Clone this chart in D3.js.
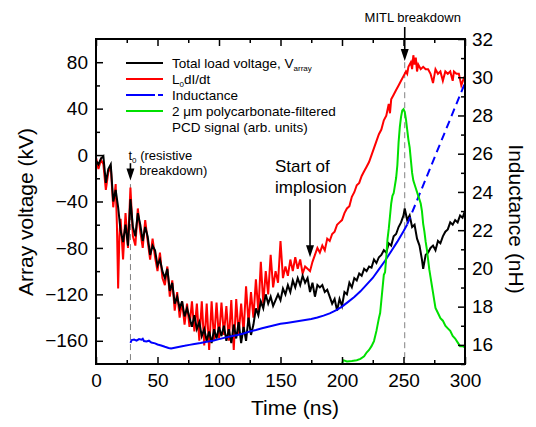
<!DOCTYPE html>
<html>
<head>
<meta charset="utf-8">
<script src="https://cdn.jsdelivr.net/npm/d3@7"></script>
<style>
  body { margin: 0; background: #fff; }
  svg { display: block; font-family: "Liberation Sans", Arial, sans-serif; }
</style>
</head>
<body>
<svg id="chart" width="536" height="427"></svg>
<script>
// Total load voltage V_array (kV) vs time (ns)
const voltageArray = [[0,-5],[2,-8],[4,-3],[6,-1],[8,-24],[10,-12],[12,-8],[14,-40],[16,-30],[18,-45],[20,-65],[22,-75],[24,-60],[26,-78],[28,-38],[30,-62],[32,-70],[34,-50],[36,-60],[38,-74],[40,-62],[42,-70],[44,-86],[46,-78],[48,-82],[50,-95],[52,-90],[54,-100],[56,-106],[58,-98],[60,-117],[62,-110],[64,-128],[66,-122],[68,-132],[70,-126],[72,-139],[74,-132],[76,-140],[78,-148],[80,-138],[82,-150],[84,-144],[86,-156],[88,-150],[90,-160],[92,-152],[94,-162],[96,-150],[98,-158],[100,-148],[102,-156],[104,-147],[106,-160],[108,-150],[110,-162],[112,-146],[114,-158],[116,-144],[118,-162],[120,-148],[122,-160],[124,-140],[126,-155],[128,-146],[130,-132],[132,-138],[134,-126],[136,-132],[138,-120],[140,-128],[142,-122],[144,-130],[146,-125],[148,-120],[150,-125],[152,-115],[154,-120],[156,-112],[158,-118],[160,-108],[162,-114],[164,-106],[166,-112],[168,-104],[170,-110],[172,-106],[174,-118],[176,-110],[178,-122],[180,-112],[182,-114],[184,-112],[186,-118],[188,-116],[190,-122],[192,-128],[194,-124],[196,-134],[198,-124],[200,-130],[202,-118],[204,-120],[206,-110],[208,-114],[210,-106],[212,-108],[214,-102],[216,-104],[218,-98],[220,-100],[222,-96],[224,-97],[226,-90],[228,-93],[230,-88],[232,-86],[234,-82],[236,-84],[238,-76],[240,-78],[242,-70],[244,-68],[246,-62],[248,-58],[250,-52],[251,-46],[253,-56],[255,-52],[257,-62],[259,-60],[261,-72],[263,-78],[265,-90],[266,-98],[268,-86],[270,-84],[272,-80],[274,-78],[276,-82],[278,-74],[280,-76],[282,-70],[284,-66],[286,-64],[288,-58],[290,-60],[292,-56],[294,-58],[296,-52],[298,-54],[300,-48]];

// L0 dI/dt (kV)
const voltageLdi = [[0,-2],[2,-12],[4,-4],[6,-8],[8,-30],[10,-15],[12,-10],[14,-45],[16,-25],[17,-60],[18,-115],[19,-70],[20,-55],[22,-90],[24,-50],[26,-80],[28,-28],[30,-70],[32,-78],[34,-46],[36,-66],[38,-80],[40,-56],[42,-74],[44,-90],[46,-72],[48,-88],[50,-100],[52,-84],[54,-106],[56,-112],[58,-96],[60,-122],[62,-108],[64,-134],[66,-118],[68,-140],[70,-126],[72,-146],[74,-128],[76,-148],[78,-126],[80,-152],[82,-128],[84,-160],[86,-126],[88,-164],[90,-128],[92,-168],[94,-126],[96,-160],[98,-127],[100,-158],[102,-127],[104,-155],[106,-130],[108,-160],[110,-125],[112,-168],[114,-124],[116,-155],[118,-128],[120,-153],[122,-113],[124,-145],[126,-118],[128,-140],[130,-107],[132,-135],[134,-92],[136,-128],[138,-100],[140,-120],[142,-86],[144,-114],[146,-100],[148,-110],[150,-74],[152,-106],[154,-96],[156,-104],[158,-90],[160,-100],[162,-88],[164,-98],[166,-90],[168,-102],[170,-96],[172,-98],[174,-100],[176,-92],[178,-86],[180,-80],[182,-84],[184,-78],[186,-82],[188,-72],[190,-74],[192,-68],[194,-66],[196,-60],[198,-58],[200,-56],[202,-50],[204,-46],[206,-44],[208,-36],[210,-32],[212,-26],[214,-24],[216,-18],[218,-14],[220,-10],[222,-6],[224,0],[226,6],[228,12],[230,18],[232,22],[234,30],[236,34],[238,44],[239,36],[240,48],[242,52],[244,56],[246,60],[248,64],[250,68],[252,72],[253,70],[254,76],[256,80],[257,74],[258,86],[259,78],[260,84],[261,72],[262,78],[264,74],[266,76],[268,74],[270,74],[272,70],[274,62],[276,74],[278,70],[280,72],[282,64],[284,72],[286,70],[288,72],[290,64],[291,72],[293,70],[295,70],[297,60],[299,66],[300,64]];

// inductance (nH), measured part and extrapolated (dashed) part
const inductance = [[28,16.1],[29,16.25],[31,16.28],[33,16.22],[35,16.3],[37,16.27],[38,16.32],[39,16.2],[41,16.18],[43,16.22],[45,16.12],[48,16.08],[50,16.02],[53,15.97],[56,15.9],[59,15.84],[61,15.81],[63,15.84],[66,15.88],[69,15.92],[72,15.95],[76,16.0],[80,16.05],[85,16.1],[90,16.16],[95,16.22],[100,16.3],[105,16.38],[110,16.45],[115,16.52],[120,16.6],[125,16.7],[130,16.78],[135,16.87],[140,16.95],[145,17.03],[150,17.1],[155,17.15],[160,17.2],[165,17.25],[170,17.3],[175,17.35],[180,17.43],[185,17.53],[190,17.65],[195,17.8],[200,18.0],[205,18.25],[210,18.5],[215,18.8],[220,19.15],[225,19.5],[230,19.95],[235,20.4],[240,20.9],[245,21.4],[250,21.95],[253,22.3]];
const inductanceExtrap = [[253,22.3],[300,29.7]];

// PCD signal, arbitrary units (peak = 1)
const pcdSignal = [[200,0.0],[201,0.015],[204,0.01],[208,0.012],[212,0.015],[215,0.02],[218,0.03],[220,0.045],[222,0.055],[224,0.07],[226,0.09],[228,0.13],[230,0.18],[231,0.2],[232,0.25],[233,0.3],[234,0.35],[235,0.36],[236,0.42],[237,0.49],[238,0.53],[239,0.58],[240,0.63],[241,0.66],[242,0.67],[243,0.7],[244,0.73],[245,0.78],[246,0.87],[247,0.93],[248,0.97],[249,0.995],[250,1.0],[251,0.99],[252,0.96],[253,0.92],[254,0.88],[255,0.85],[256,0.8],[257,0.75],[258,0.72],[260,0.69],[262,0.66],[264,0.63],[265,0.6],[266,0.55],[267,0.52],[268,0.48],[269,0.45],[270,0.41],[271,0.37],[272,0.34],[273,0.31],[274,0.28],[275,0.25],[276,0.22],[278,0.2],[280,0.18],[282,0.17],[284,0.15],[286,0.14],[288,0.13],[290,0.11],[292,0.1],[294,0.085],[296,0.07],[298,0.07],[300,0.065]];

const xTicks = [0, 50, 100, 150, 200, 250, 300];
const xMinor = [25, 75, 125, 175, 225, 275];
const vTicks = [-160, -120, -80, -40, 0, 40, 80];
const vMinor = [-140, -100, -60, -20, 20, 60];
const lTicks = [16, 18, 20, 22, 24, 26, 28, 30, 32];
const lMinor = [15, 17, 19, 21, 23, 25, 27, 29, 31];

const t0 = 28;        // resistive breakdown
const tMitl = 251;    // MITL breakdown
const tImplosion = 174;

const legendItems = [
  { label: "Total load voltage, V", sub: "array", color: "#000" },
  { label: "L", sub: "0", rest: "dI/dt", color: "#ff0000" },
  { label: "Inductance", color: "#0000ff", dashed: true },
  { label: "2 \u03bcm polycarbonate-filtered", color: "#00e000" },
];

function renderChart() {
  const svg = d3.select("#chart"),
    margin = { top: 39, right: 71, bottom: 63, left: 96 },
    width = 536 - margin.left - margin.right,
    height = 427 - margin.top - margin.bottom;

  const g = svg.append("g").attr("transform", `translate(${margin.left},${margin.top})`);

  const x = d3.scaleLinear().domain([0, 300]).range([0, width]);
  const yV = d3.scaleLinear().domain([-180, 100]).range([height, 0]);
  const yL = d3.scaleLinear().domain([15, 32]).range([height, 0]);
  const yP = d3.scaleLinear().domain([0, 1]).range([height, yV(39.5)]);

  // dashed markers
  g.append("line")
    .attr("x1", x(t0)).attr("x2", x(t0))
    .attr("y1", yV(-25)).attr("y2", height)
    .attr("stroke", "#808080").attr("stroke-dasharray", "6,4");
  g.append("line")
    .attr("x1", x(tMitl)).attr("x2", x(tMitl))
    .attr("y1", yV(80)).attr("y2", height)
    .attr("stroke", "#808080").attr("stroke-dasharray", "6,4");

  const lineV = d3.line().x((d) => x(d[0])).y((d) => yV(d[1]));
  const lineL = d3.line().x((d) => x(d[0])).y((d) => yL(d[1]));
  const lineP = d3.line().x((d) => x(d[0])).y((d) => yP(d[1]));

  g.append("path").datum(voltageLdi)
    .attr("fill", "none").attr("stroke", "#ff0000").attr("stroke-width", 2).attr("d", lineV);
  g.append("path").datum(voltageArray)
    .attr("fill", "none").attr("stroke", "#000").attr("stroke-width", 2).attr("d", lineV);
  g.append("path").datum(inductance)
    .attr("fill", "none").attr("stroke", "#0000ff").attr("stroke-width", 2).attr("d", lineL);
  g.append("path").datum(inductanceExtrap)
    .attr("fill", "none").attr("stroke", "#0000ff").attr("stroke-width", 2)
    .attr("stroke-dasharray", "8,5").attr("d", lineL);
  g.append("path").datum(pcdSignal)
    .attr("fill", "none").attr("stroke", "#00e000").attr("stroke-width", 2).attr("d", lineP);

  // axes, ticks pointing inward
  function styleAxis(sel) {
    sel.select(".domain").remove();
    sel.selectAll(".tick line").attr("stroke", "#000").attr("stroke-width", 1.5);
    sel.selectAll(".tick text").attr("font-size", 19).attr("fill", "#000").attr("font-family", null);
  }
  g.append("g").attr("transform", `translate(0,${height})`)
    .call(d3.axisBottom(x).tickValues(xTicks).tickSize(-7).tickPadding(10))
    .call(styleAxis);
  g.append("g").attr("transform", `translate(0,${height})`)
    .call(d3.axisBottom(x).tickValues(xMinor).tickSize(-4).tickFormat(""))
    .call(styleAxis);
  g.append("g")
    .call(d3.axisTop(x).tickValues(xTicks).tickSize(-7).tickFormat(""))
    .call(styleAxis);
  g.append("g")
    .call(d3.axisTop(x).tickValues(xMinor).tickSize(-4).tickFormat(""))
    .call(styleAxis);
  g.append("g")
    .call(d3.axisLeft(yV).tickValues(vTicks).tickSize(-7).tickPadding(8))
    .call(styleAxis);
  g.append("g")
    .call(d3.axisLeft(yV).tickValues(vMinor).tickSize(-4).tickFormat(""))
    .call(styleAxis);
  g.append("g").attr("transform", `translate(${width},0)`)
    .call(d3.axisRight(yL).tickValues(lTicks).tickSize(-7).tickPadding(7))
    .call(styleAxis);
  g.append("g").attr("transform", `translate(${width},0)`)
    .call(d3.axisRight(yL).tickValues(lMinor).tickSize(-4).tickFormat(""))
    .call(styleAxis);

  g.append("rect")
    .attr("width", width).attr("height", height)
    .attr("fill", "none").attr("stroke", "#000").attr("stroke-width", 2);

  // axis titles
  svg.append("text")
    .attr("transform", "translate(33,212) rotate(-90)")
    .attr("text-anchor", "middle").attr("font-size", 21)
    .text("Array voltage (kV)");
  svg.append("text")
    .attr("transform", "translate(509,219) rotate(90)")
    .attr("text-anchor", "middle").attr("font-size", 21)
    .text("Inductance (nH)");
  svg.append("text")
    .attr("x", 295).attr("y", 415)
    .attr("text-anchor", "middle").attr("font-size", 21)
    .text("Time (ns)");

  // legend
  const leg = g.append("g").attr("transform", "translate(30,24)");
  legendItems.forEach((item, i) => {
    const yy = i * 16;
    if (item.dashed) {
      leg.append("line").attr("x1", 0).attr("x2", 24).attr("y1", yy).attr("y2", yy)
        .attr("stroke", item.color).attr("stroke-width", 2);
      leg.append("line").attr("x1", 24).attr("x2", 37).attr("y1", yy).attr("y2", yy)
        .attr("stroke", item.color).attr("stroke-width", 2).attr("stroke-dasharray", "5,3");
    } else {
      leg.append("line").attr("x1", 0).attr("x2", 37).attr("y1", yy).attr("y2", yy)
        .attr("stroke", item.color).attr("stroke-width", 2);
    }
    const txt = leg.append("text").attr("x", 46).attr("y", yy + 5).attr("font-size", 13.5);
    txt.append("tspan").text(item.label);
    if (item.sub) {
      txt.append("tspan").attr("font-size", 8).attr("dy", 3).text(item.sub);
    }
    if (item.rest) {
      txt.append("tspan").attr("dy", -3).text(item.rest);
    }
  });
  leg.append("text").attr("x", 46).attr("y", 4 * 16 + 5).attr("font-size", 13.5)
    .text("PCD signal (arb. units)");

  // annotations with arrows
  function arrow(tx, yTop, yTip) {
    g.append("line").attr("x1", x(tx)).attr("x2", x(tx))
      .attr("y1", yTop).attr("y2", yTip - 10)
      .attr("stroke", "#000").attr("stroke-width", 1.6);
    g.append("path")
      .attr("d", `M${x(tx) - 4},${yTip - 12}L${x(tx) + 4},${yTip - 12}L${x(tx)},${yTip}Z`)
      .attr("fill", "#000");
  }
  arrow(tMitl, -12, yV(81));
  arrow(t0, yV(-7), yV(-22));
  arrow(tImplosion, yV(-38), yV(-88));

  g.append("text").attr("x", x(tMitl) + 8).attr("y", -17)
    .attr("text-anchor", "middle").attr("font-size", 13)
    .text("MITL breakdown");

  const t0Label = g.append("text").attr("x", x(t0) - 2).attr("y", yV(-4))
    .attr("font-size", 13);
  t0Label.append("tspan").text("t");
  t0Label.append("tspan").attr("font-size", 8).attr("dy", 3).text("0");
  t0Label.append("tspan").attr("dy", -3).text(" (resistive");
  g.append("text").attr("x", x(t0) + 9).attr("y", yV(-4) + 15)
    .attr("font-size", 13).text("breakdown)");

  g.append("text").attr("x", 179).attr("y", 133).attr("font-size", 17).text("Start of");
  g.append("text").attr("x", 179).attr("y", 154).attr("font-size", 17).text("implosion");
}

renderChart();
</script>
</body>
</html>
